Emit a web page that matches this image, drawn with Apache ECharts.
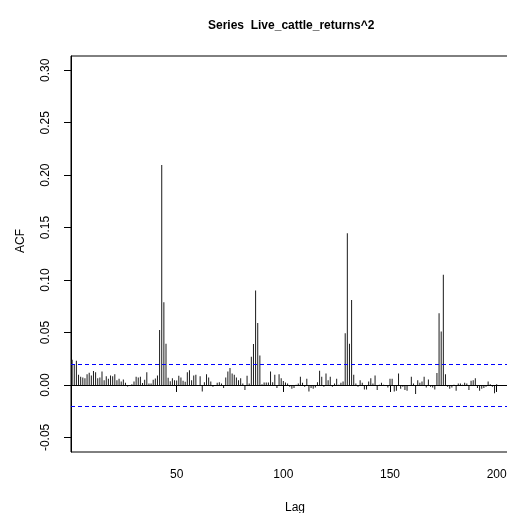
<!DOCTYPE html>
<html>
<head>
<meta charset="utf-8">
<script src="https://cdn.jsdelivr.net/npm/echarts@6/dist/echarts.min.js"></script>
<style>html,body{margin:0;padding:0;background:#fff}#c{width:507px;height:513px}</style>
</head>
<body>
<div id="c"></div>
<script>
const titleText = "Series  Live_cattle_returns^2";
const xName = "Lag";
const yName = "ACF";
const xTicks = [50, 100, 150, 200];
const yTicks = [-0.05, 0, 0.05, 0.10, 0.15, 0.20, 0.25, 0.30];
const ciBound = 0.0203;
// ACF values for lags 1..200
const acfValues = [
 0.0240,0.0192,0.0230,0.0097,0.0078,0.0072,0.0065,0.0103,0.0116,0.0091,
 0.0132,0.0122,0.0065,0.0072,0.0129,0.0046,0.0084,0.0059,0.0091,0.0084,
 0.0103,0.0046,0.0059,0.0034,0.0053,0.0021,-0.0014,-0.0008,0.0008,0.0034,
 0.0078,0.0072,0.0078,0.0018,0.0049,0.0122,0.0015,0.0015,0.0049,0.0062,
 0.0090,0.0525,0.2096,0.0789,0.0392,0.0070,0.0036,0.0063,0.0046,0.0043,
 0.0088,0.0072,0.0040,0.0030,0.0122,0.0141,0.0046,0.0091,0.0097,-0.0004,
 0.0084,-0.0062,0.0027,0.0103,0.0072,0.0034,-0.0017,-0.0004,0.0021,0.0027,
 0.0015,-0.0030,0.0072,0.0129,0.0161,0.0110,0.0097,0.0072,0.0046,0.0065,
 0.0015,-0.0049,0.0089,0.0015,0.0270,0.0390,0.0900,0.0590,0.0280,0.0008,
 0.0024,0.0024,0.0024,0.0129,0.0027,0.0097,-0.0030,0.0103,0.0065,0.0037,
 0.0024,0.0015,-0.0017,-0.0036,-0.0030,0.0002,0.0015,0.0078,0.0021,-0.0017,
 0.0059,-0.0062,-0.0030,-0.0036,-0.0023,0.0027,0.0135,0.0078,-0.0017,0.0110,
 0.0046,0.0078,-0.0017,0.0015,0.0059,0.0002,0.0021,0.0034,0.0494,0.1446,
 0.0392,0.0811,0.0097,0.0015,-0.0017,0.0046,0.0021,-0.0043,-0.0043,0.0034,
 0.0065,0.0015,0.0091,-0.0049,0.0002,0.0021,0.0002,-0.0004,-0.0023,0.0059,
 0.0059,-0.0062,-0.0055,0.0110,-0.0036,-0.0017,-0.0049,-0.0055,-0.0011,0.0078,
 0.0015,-0.0087,0.0046,0.0021,0.0034,0.0078,-0.0023,0.0053,-0.0017,-0.0023,
 -0.0043,0.0113,0.0684,0.0510,0.1050,0.0103,-0.0017,-0.0036,-0.0023,0.0002,
 -0.0055,0.0015,0.0015,0.0002,0.0021,0.0015,-0.0049,0.0040,0.0046,0.0065,
 -0.0030,-0.0055,-0.0036,-0.0030,-0.0017,0.0034,0.0008,-0.0017,-0.0080,0.0008
];
const lags = acfValues.map((v, i) => i + 1);

const font = "Liberation Sans, Arial, Helvetica, sans-serif";
const chart = echarts.init(document.getElementById('c'), null, {renderer: 'canvas'});
chart.setOption({
  animation: false,
  backgroundColor: '#ffffff',
  title: {
    text: titleText,
    left: 203, top: 15,
    textStyle: {fontFamily: font, fontSize: 12, fontWeight: 'bold', color: '#000'}
  },
  grid: {
    left: 71, top: 56, bottom: 61, right: -12,
    outerBoundsMode: 'none',
    show: true, borderColor: '#000', borderWidth: 1, backgroundColor: 'transparent',
    containLabel: false
  },
  xAxis: {
    type: 'value', min: 0.47, max: 210.47,
    name: xName, nameLocation: 'middle', nameGap: 50,
    nameTextStyle: {fontFamily: font, fontSize: 12, color: '#000'},
    axisLine: {show: true, lineStyle: {color: '#000', width: 1}},
    axisTick: {show: true, inside: false, length: 7, lineStyle: {color: '#000'}, customValues: xTicks},
    axisLabel: {show: true, margin: 17, fontFamily: font, fontSize: 12, color: '#000', customValues: xTicks},
    splitLine: {show: false}
  },
  yAxis: {
    type: 'value', min: -0.0639, max: 0.3136,
    axisLine: {show: true, lineStyle: {color: '#000', width: 1}},
    axisTick: {show: true, inside: false, length: 7, lineStyle: {color: '#000'}, customValues: yTicks},
    axisLabel: {show: true, rotate: 90, margin: 19, fontFamily: font, fontSize: 12, color: '#000',
      customValues: yTicks,
      formatter: v => v.toFixed(2)},
    splitLine: {show: false}
  },
  graphic: [{
    type: 'text', x: 21, y: 241, rotation: Math.PI / 2,
    style: {text: yName, font: '12px ' + font, fill: '#000', textAlign: 'center', textVerticalAlign: 'middle'}
  }],
  series: [{
    type: 'bar',
    data: lags.map((l, i) => [l, acfValues[i]]),
    barWidth: 1,
    itemStyle: {color: '#1a1a1a'},
    silent: true,
    markLine: {
      silent: true, symbol: 'none', label: {show: false},
      lineStyle: {color: '#0000ff', type: [4, 3], width: 1},
      data: [
        {yAxis: ciBound},
        {yAxis: -ciBound},
        {yAxis: 0, lineStyle: {color: '#000000', type: 'solid', width: 1}}
      ]
    }
  }]
});
</script>
</body>
</html>
